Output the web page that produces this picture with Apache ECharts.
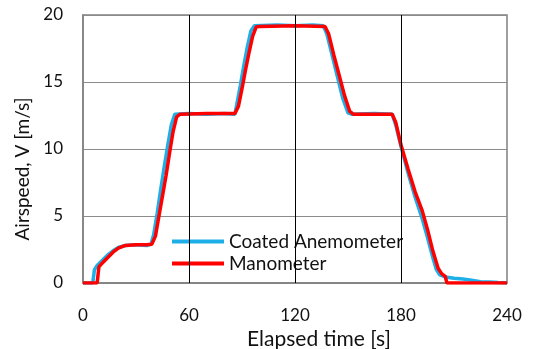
<!DOCTYPE html>
<html>
<head>
<meta charset="utf-8">
<script src="https://cdn.jsdelivr.net/npm/echarts@6/dist/echarts.min.js"></script>
<style>
  html, body { margin: 0; padding: 0; background: #fff; }
  #chart { width: 539px; height: 349px; }
</style>
</head>
<body>
<div id="chart"></div>
<script>
// time [s], airspeed [m/s]
const anemometer = [
  [0, 0], [5.5, 0], [6.5, 1.0], [8, 1.3], [11, 1.7], [14, 2.1], [17, 2.4], [20, 2.65],
  [24, 2.8], [30, 2.85], [36, 2.8], [38.5, 2.9], [40, 3.6], [42, 5.2], [44, 7], [46, 8.7],
  [48, 10.3], [50, 11.8], [52, 12.6], [60, 12.65], [70, 12.6], [80, 12.65], [86, 12.6],
  [87, 13.3], [89, 14.7], [91, 16.2], [93, 17.6], [95, 18.8], [97, 19.2], [110, 19.25],
  [120, 19.2], [130, 19.25], [136, 19.2], [138, 18.6], [141, 17], [144, 15.4], [147, 13.8],
  [150, 12.7], [152, 12.6], [165, 12.65], [175, 12.6], [177, 11.8], [180, 10.2], [184, 8.2],
  [188, 6.4], [192, 4.8], [195, 3.4], [198, 1.9], [200, 1.0], [202, 0.6], [205, 0.45],
  [210, 0.35], [215, 0.3], [220, 0.2], [225, 0.1], [230, 0.08], [235, 0.03], [240, 0]
];
const manometer = [
  [0, 0], [8, 0], [8.5, 0.6], [9, 1.2], [11, 1.5], [14, 1.9], [17, 2.3], [20, 2.6],
  [24, 2.8], [30, 2.85], [36, 2.85], [39, 2.9], [41, 3.5], [43, 5], [45, 6.5], [47, 8],
  [49, 9.7], [51, 11.3], [53, 12.4], [55, 12.6], [70, 12.65], [86, 12.65], [88, 13.2],
  [90, 14.5], [92, 15.9], [94, 17.2], [96, 18.4], [98, 19.1], [100, 19.15], [120, 19.2],
  [137, 19.15], [139, 18.6], [142, 17], [145, 15.5], [148, 14], [151, 12.8], [153, 12.6],
  [165, 12.6], [175, 12.6], [177, 12], [180, 10.3], [184, 8.5], [188, 6.8], [192, 5.4],
  [195, 4], [198, 2.4], [201, 1.1], [203, 0.7], [205, 0.5], [206, 0], [240, 0]
];
const timeGuides = [60, 120, 180];

const FONT = "Lato, 'Open Sans', sans-serif";
const chart = echarts.init(document.getElementById("chart"), null, { renderer: "canvas" });

const option = {
  animation: false,
  textStyle: { fontFamily: FONT, color: "#111" },
  grid: {
    left: 83, right: 32, top: 15, bottom: 66,
    outerBoundsMode: "none",
    containLabel: false,
    show: true, borderColor: "#808080", borderWidth: 1.5, backgroundColor: "transparent"
  },
  legend: {
    orient: "vertical",
    left: 166,
    top: 227,
    icon: "rect",
    itemWidth: 52,
    itemHeight: 4,
    itemGap: 3,
    padding: [5, 8, 5, 6],
    backgroundColor: "#fff",
    textStyle: { fontFamily: FONT, fontSize: 19, color: "#111" },
    data: ["Coated Anemometer", "Manometer"]
  },
  xAxis: {
    type: "value",
    min: 0, max: 240, interval: 60,
    name: "Elapsed time [s]",
    nameLocation: "middle",
    nameGap: 41,
    nameTextStyle: { fontFamily: FONT, fontSize: 21, color: "#111", padding: [0, 0, 0, 48] },
    axisLine: { show: true, lineStyle: { color: "#808080", width: 1.5 } },
    axisTick: { show: false },
    axisLabel: { fontFamily: FONT, fontSize: 17, color: "#111", margin: 24 },
    splitLine: { show: false }
  },
  yAxis: {
    type: "value",
    min: 0, max: 20, interval: 5,
    name: "Airspeed, V [m/s]",
    nameLocation: "middle",
    nameGap: 47,
    nameTextStyle: { fontFamily: FONT, fontSize: 19, color: "#111", padding: [0, 40, 0, 0] },
    axisLine: { show: true, lineStyle: { color: "#808080", width: 1.5 } },
    axisTick: { show: false },
    axisLabel: { fontFamily: FONT, fontSize: 17, color: "#111", margin: 20 },
    splitLine: { show: true, lineStyle: { color: "#8c8c8c", width: 1.2 } }
  },
  series: [
    {
      name: "guides",
      type: "line",
      data: [],
      z: 1,
      silent: true,
      markLine: {
        silent: true,
        symbol: "none",
        label: { show: false },
        lineStyle: { color: "#000", width: 1, type: "solid" },
        data: timeGuides.map(t => ({ xAxis: t }))
      }
    },
    {
      name: "Coated Anemometer",
      type: "line",
      data: anemometer,
      showSymbol: false,
      symbol: "none",
      z: 3,
      lineStyle: { color: "#1EAEE8", width: 3.5 },
      itemStyle: { color: "#1EAEE8" }
    },
    {
      name: "Manometer",
      type: "line",
      data: manometer,
      showSymbol: false,
      symbol: "none",
      z: 4,
      lineStyle: { color: "#FF0000", width: 3.5 },
      itemStyle: { color: "#FF0000" }
    }
  ]
};

chart.setOption(option);
</script>
</body>
</html>
